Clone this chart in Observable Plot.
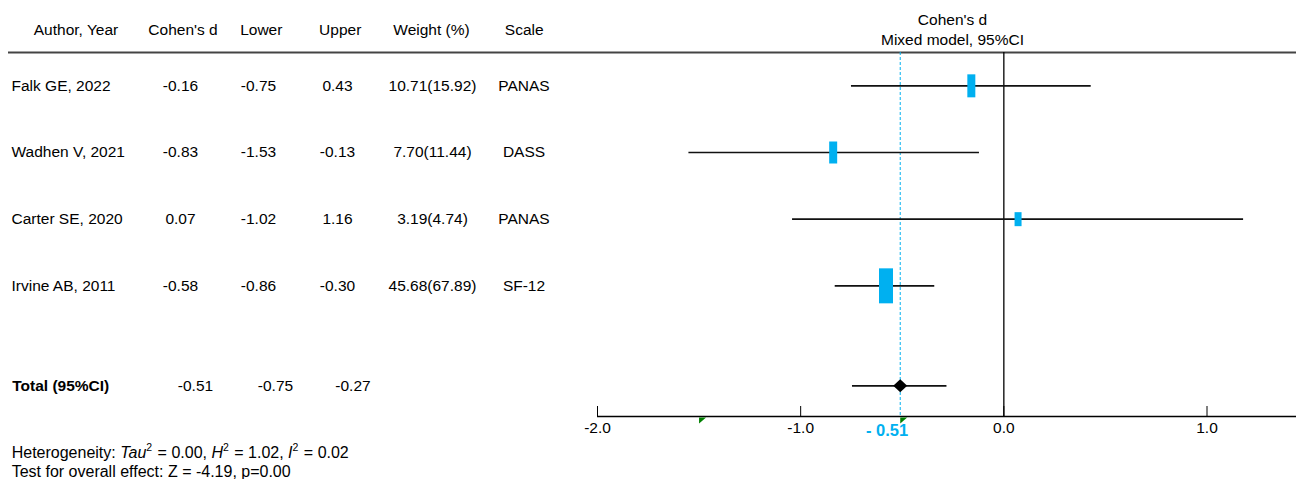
<!DOCTYPE html>
<html><head><meta charset="utf-8">
<script src="https://cdn.jsdelivr.net/npm/d3@7"></script>
<script src="https://cdn.jsdelivr.net/npm/@observablehq/plot@0.6"></script>
<style>
body{margin:0;background:#fff;font-family:"Liberation Sans",Arial,sans-serif;}
#foot{font-size:16px;line-height:19px;padding:3px 0 0 11.7px;color:#000;}
#foot sup{font-size:10.5px;line-height:0;position:relative;top:-1px;padding-right:1px;}
</style></head><body>
<div id="chart"></div>
<div id="foot"></div>
<script>
// ---- data ----
const authors = ["Falk GE, 2022", "Wadhen V, 2021", "Carter SE, 2020", "Irvine AB, 2011"];
const cohensD = [-0.16, -0.83, 0.07, -0.58];
const lowerCI = [-0.75, -1.53, -1.02, -0.86];
const upperCI = [0.43, -0.13, 1.16, -0.30];
const weights = ["10.71(15.92)", "7.70(11.44)", "3.19(4.74)", "45.68(67.89)"];
const scaleNames = ["PANAS", "DASS", "PANAS", "SF-12"];
// interval ends as drawn in the graph
const plotLower = [-0.75, -1.55, -1.04, -0.83];
const plotUpper = [0.43, -0.12, 1.18, -0.34];
const plotD = [-0.16, -0.84, 0.07, -0.58];
const totalD = -0.51, totalLower = -0.75, totalUpper = -0.27;
const totalPlotLower = -0.745, totalPlotUpper = -0.28;
const xTicks = [-2, -1, 0, 1];
const markers = [-1.5, -0.51];
const headers = ["Author, Year", "Cohen's d", "Lower", "Upper", "Weight (%)", "Scale"];
const plotTitle = ["Cohen's d", "Mixed model, 95%CI"];
const tau2 = 0.00, h2 = 1.02, i2 = 0.02, zValue = -4.19, pValue = 0.00;

// ---- layout / style ----
const W = 1296, H = 440, ML = 597, MT = 52, MB = 24;
const blue = "#00B0F0";
const headerX = [75.5, 182.5, 260.8, 339.7, 431, 523.7];
const colX = {author: 11, d: 180, lo: 258, hi: 337, w: 432, scale: 523.5};
const totalX = {label: 11.7, d: 195, lo: 275, hi: 352.5};
const boxSize = [[8, 23], [8, 22], [7, 14], [14, 35]];
const FS = 15.5;

const rows = authors.map((a, i) => ({
  i, author: a, d: cohensD[i], lo: lowerCI[i], hi: upperCI[i], w: weights[i], scale: scaleNames[i],
  pd: plotD[i], plo: plotLower[i], phi: plotUpper[i]
}));
const totalRow = {i: 4.5, d: totalD, lo: totalLower, hi: totalUpper, plo: totalPlotLower, phi: totalPlotUpper};

const rectSym = (w, h) => ({draw(ctx) { ctx.rect(-w / 2, -h / 2, w, h); }});
const diamond = {draw(ctx) { ctx.moveTo(0, -6.5); ctx.lineTo(7, 0); ctx.lineTo(0, 6.5); ctx.lineTo(-7, 0); ctx.closePath(); }};
const flag = {draw(ctx) { ctx.moveTo(0, 1); ctx.lineTo(7, 1); ctx.lineTo(0, 7); ctx.closePath(); }};
const f2 = v => v.toFixed(2);

const col = (data, text, cx, anchor = "middle", extra = {}) =>
  Plot.text(data, {y: "i", text, frameAnchor: "left", dx: cx - ML, textAnchor: anchor, lineAnchor: "middle", fontSize: FS, fill: "#000", ...extra});
const topText = (t, cx, cy, extra = {}) =>
  Plot.text([t], {frameAnchor: "top-left", dx: cx - ML, dy: cy - MT, text: d => d, textAnchor: "middle", lineAnchor: "middle", fontSize: FS, fill: "#000", ...extra});

const marks = [
  // header rule spanning table and plot
  Plot.ruleY([-0.5], {insetLeft: -(ML - 8), stroke: "#444", strokeWidth: 2}),
  // header texts
  ...headers.map((h, k) => topText(h, headerX[k], 30)),
  topText(plotTitle[0], 952, 19.5),
  topText(plotTitle[1], 952, 39.5),
  // table rows
  col(rows, "author", colX.author, "start"),
  col(rows, d => f2(d.d), colX.d),
  col(rows, d => f2(d.lo), colX.lo),
  col(rows, d => f2(d.hi), colX.hi),
  col(rows, "w", colX.w),
  col(rows, "scale", colX.scale),
  col([totalRow], () => "Total (95%CI)", totalX.label, "start", {fontWeight: "bold"}),
  col([totalRow], d => f2(d.d), totalX.d),
  col([totalRow], d => f2(d.lo), totalX.lo),
  col([totalRow], d => f2(d.hi), totalX.hi),
  // reference lines
  Plot.ruleX([0], {stroke: "#000", strokeWidth: 1.3}),
  Plot.ruleX([totalD], {stroke: blue, strokeWidth: 1, strokeDasharray: "3,2"}),
  // confidence intervals
  Plot.ruleY(rows, {y: "i", x1: "plo", x2: "phi", stroke: "#111", strokeWidth: 1.6}),
  Plot.ruleY([totalRow], {y: "i", x1: "plo", x2: "phi", stroke: "#111", strokeWidth: 1.6}),
  // boxes
  ...rows.map((r, k) => Plot.dot([r], {x: "pd", y: "i", symbol: rectSym(...boxSize[k]), fill: blue, stroke: null})),
  Plot.dot([totalRow], {x: "d", y: "i", symbol: diamond, fill: "#000", stroke: null}),
  // axis
  Plot.ruleY([4.96], {stroke: "#000", strokeWidth: 1.5}),
  Plot.axisX({ticks: xTicks, tickFormat: d => d.toFixed(1), tickSize: -10, tickPadding: 15, fontSize: FS, stroke: "#000", fill: "#000", label: null}),
  Plot.text([totalRow], {x: "d", frameAnchor: "bottom", text: d => "- " + Math.abs(d.d).toFixed(2), fill: blue, fontWeight: "bold", fontSize: 16.5, textAnchor: "end", lineAnchor: "middle", dx: 8, dy: 14.5}),
  Plot.dot(markers, {x: d => d, frameAnchor: "bottom", symbol: flag, fill: "#008000", stroke: null})
];

const chart = Plot.plot({
  width: W, height: H,
  marginLeft: ML, marginRight: 0, marginTop: MT, marginBottom: MB,
  style: {fontFamily: "'Liberation Sans', Arial, sans-serif", fontSize: FS + "px", background: "#fff", overflow: "visible"},
  x: {domain: [-2, (W - 1003.3) / 203.2], axis: null},
  y: {domain: [-0.5, 4.96], reverse: true, axis: null},
  marks
});
document.getElementById("chart").appendChild(chart);

document.getElementById("foot").innerHTML =
  `Heterogeneity: <i>Tau</i><sup>2</sup> = ${tau2.toFixed(2)}, <i>H</i><sup>2</sup> = ${h2.toFixed(2)}, <i>I</i><sup>2</sup> = ${i2.toFixed(2)}<br>` +
  `Test for overall effect: Z = ${zValue.toFixed(2)}, p=${pValue.toFixed(2)}`;
</script>
</body></html>
